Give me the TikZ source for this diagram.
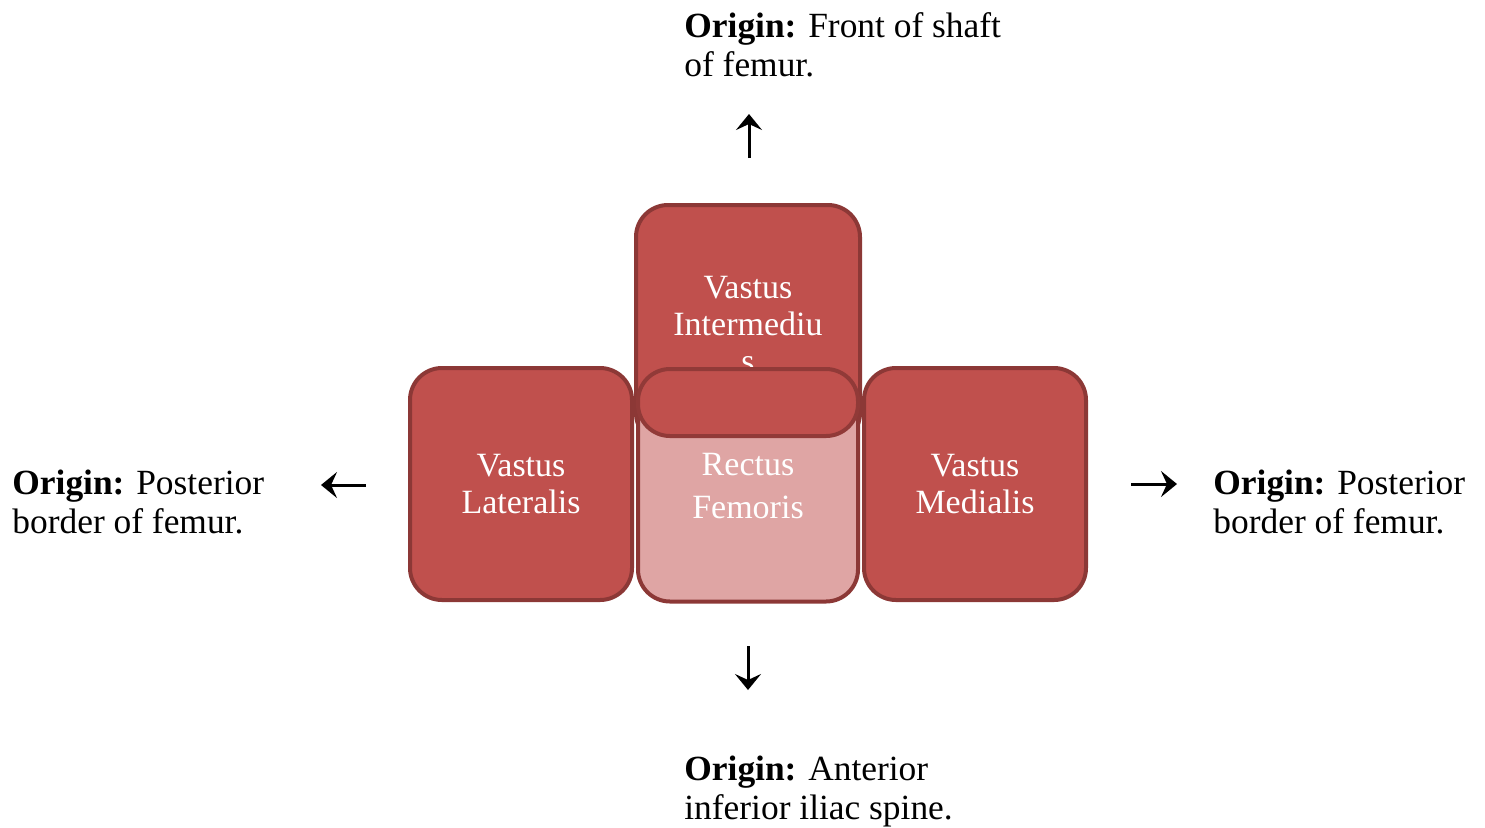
\documentclass[tikz,border=0pt]{standalone}
\usepackage{fontspec}
\setmainfont{Liberation Serif}
\usetikzlibrary{arrows.meta}
\definecolor{muscle}{HTML}{C0504D}
\definecolor{muscleedge}{HTML}{8C3836}
\definecolor{musclelight}{HTML}{DFA5A4}
\tikzset{
  muscle box/.style={draw=muscleedge, line width=2pt, fill=muscle, rounded corners=16pt,
    text=white, align=center, inner sep=0pt, font=\fontsize{17}{18.5}\selectfont},
  origin/.style={anchor=base west, align=left, inner sep=0pt, font=\fontsize{17.7}{19.5}\selectfont},
  dir/.style={-{Stealth[length=8pt,width=13pt,inset=3pt]}, line width=1.5pt}
}
\begin{document}
\begin{tikzpicture}[x=0.5pt,y=-0.5pt]
    \useasboundingbox (0,0) rectangle (1485,827);
    %% muscle heads
    \node[muscle box, minimum width=112pt, minimum height=120pt] (vi) at (748,325) {Vastus\\Intermediu\\s};
    \node[muscle box, fill=musclelight, minimum width=110pt, minimum height=115.5pt,
      font=\fontsize{17}{21.5}\selectfont] (rf) at (748,486) {Rectus\\Femoris};
    \node[muscle box, draw=muscleedge!90!muscle, minimum width=110pt, minimum height=33.5pt] (cap) at (748,402.5) {};
    \node[muscle box, minimum width=111pt, minimum height=116pt] (vl) at (521,484) {Vastus\\Lateralis};
    \node[muscle box, minimum width=111pt, minimum height=116pt] (vm) at (975,484) {Vastus\\Medialis};
    %% origins (anchored at the last line)
    \node[origin] (otop) at (684,76) {\textbf{Origin:} Front of shaft\\of femur.};
    \node[origin] (oleft) at (12,533) {\textbf{Origin:} Posterior\\border of femur.};
    \node[origin] (oright) at (1213,533) {\textbf{Origin:} Posterior\\border of femur.};
    \node[origin] (obottom) at (684,819) {\textbf{Origin:} Anterior\\inferior iliac spine.};
    %% arrows
    \coordinate (up0) at (749,158);
    \coordinate (up1) at (749,114);
    \coordinate (lt0) at (366,485);
    \coordinate (lt1) at (321,485);
    \coordinate (rt0) at (1131,484);
    \coordinate (rt1) at (1177,484);
    \coordinate (dn0) at (748,646);
    \coordinate (dn1) at (748,690);
    \draw[dir] (up0) -- (up1);
    \draw[dir] (lt0) -- (lt1);
    \draw[dir] (rt0) -- (rt1);
    \draw[dir] (dn0) -- (dn1);
\end{tikzpicture}
\end{document}
